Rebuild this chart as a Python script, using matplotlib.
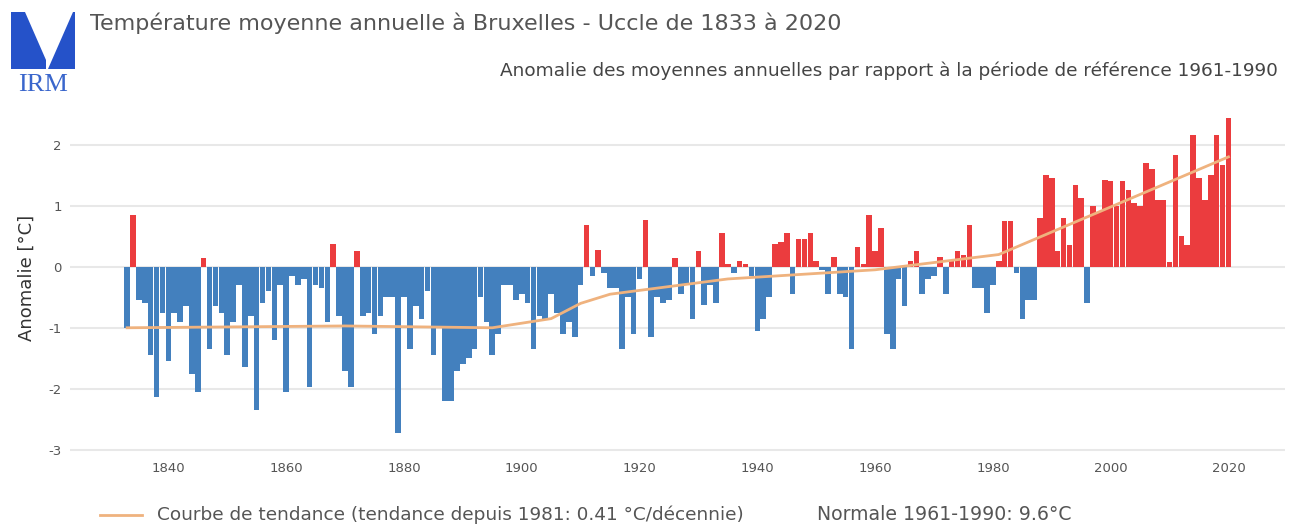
import matplotlib
matplotlib.use("Agg")
import matplotlib.pyplot as plt
from matplotlib.patches import Polygon
from matplotlib.lines import Line2D

# ---------------- data ----------------
years = list(range(1833, 2021))
anomalies = [
    -1.00, 0.85, -0.55, -0.60, -1.45, -2.13, -0.75,            # 1833-1839
    -1.55, -0.75, -0.90, -0.65, -1.75, -2.05, 0.15, -1.35, -0.65, -0.75,  # 1840s
    -1.45, -0.90, -0.30, -1.65, -0.80, -2.35, -0.60, -0.40, -1.20, -0.30,  # 1850s
    -2.05, -0.15, -0.30, -0.20, -1.97, -0.30, -0.35, -0.90, 0.38, -0.80,   # 1860s
    -1.70, -1.97, 0.25, -0.80, -0.75, -1.10, -0.80, -0.50, -0.50, -2.73,   # 1870s
    -0.50, -1.34, -0.65, -0.85, -0.40, -1.45, -1.00, -2.20, -2.20, -1.70,  # 1880s
    -1.60, -1.50, -1.35, -0.50, -0.90, -1.45, -1.10, -0.30, -0.30, -0.55,  # 1890s
    -0.45, -0.60, -1.34, -0.80, -0.85, -0.45, -0.75, -1.10, -0.90, -1.15,  # 1900s
    -0.30, 0.68, -0.15, 0.27, -0.10, -0.35, -0.35, -1.34, -0.50, -1.10,   # 1910s
    -0.20, 0.77, -1.15, -0.50, -0.60, -0.55, 0.15, -0.45, -0.30, -0.85,   # 1920s
    0.25, -0.63, -0.30, -0.60, 0.55, 0.05, -0.10, 0.10, 0.05, -0.15,      # 1930s
    -1.05, -0.85, -0.50, 0.38, 0.40, 0.55, -0.45, 0.45, 0.45, 0.55,       # 1940s
    0.10, -0.05, -0.45, 0.16, -0.45, -0.50, -1.34, 0.33, 0.05, 0.85,      # 1950s
    0.25, 0.63, -1.10, -1.35, -0.20, -0.65, 0.10, 0.25, -0.45, -0.20,     # 1960s
    -0.15, 0.16, -0.45, 0.10, 0.25, 0.20, 0.68, -0.35, -0.35, -0.75,      # 1970s
    -0.30, 0.10, 0.75, 0.75, -0.10, -0.85, -0.55, -0.55, 0.80, 1.50,      # 1980s
    1.45, 0.25, 0.80, 0.35, 1.34, 1.12, -0.60, 1.00, 0.90, 1.42,          # 1990s
    1.40, 1.00, 1.40, 1.25, 1.05, 1.00, 1.70, 1.60, 1.10, 1.10,           # 2000s
    0.08, 1.83, 0.50, 0.35, 2.16, 1.45, 1.10, 1.50, 2.16, 1.67,           # 2010s
    2.43,                                                                 # 2020
]

trend_years = [1833, 1870, 1895, 1905, 1910, 1915, 1935, 1960, 1981, 2020]
trend_values = [-1.00, -0.97, -1.00, -0.85, -0.60, -0.45, -0.20, -0.05, 0.20, 1.80]

x_ticks = [1840, 1860, 1880, 1900, 1920, 1940, 1960, 1980, 2000, 2020]
y_ticks = [-3, -2, -1, 0, 1, 2]
y_tick_labels = ["-3", "-2", "-1", "0", "1", "2"]

title = "Température moyenne annuelle à Bruxelles - Uccle de 1833 à 2020"
subtitle = "Anomalie des moyennes annuelles par rapport à la période de référence 1961-1990"
trend_label = "Courbe de tendance (tendance depuis 1981: 0.41 °C/décennie)"
normal_label = "Normale 1961-1990: 9.6°C"
y_label = "Anomalie [°C]"

# ---------------- style ----------------
plt.rcParams['font.family'] = ['DejaVu Sans']
RED = '#eb3c3e'
BLUE = '#4380be'
TREND = '#efb27e'
GRID = '#e8e8e8'
TXT = '#555555'

W, H = 1293, 527
fig = plt.figure(figsize=(W / 100, H / 100), dpi=100)

def fx(px):
    return px / W

def fy(py):
    return 1 - py / H

ax_l, ax_r, ax_t, ax_b = 70, 1285, 105, 459
ax = fig.add_axes([fx(ax_l), fy(ax_b), fx(ax_r - ax_l), (ax_b - ax_t) / H])

colors = [RED if v >= 0 else BLUE for v in anomalies]
ax.bar(years, anomalies, width=0.95, color=colors, linewidth=0, zorder=2)
ax.plot(trend_years, trend_values, color=TREND, lw=2, zorder=3)

ax.set_xlim(1823.3, 2029.6)
ax.set_ylim(-3.15, 2.65)
ax.set_xticks(x_ticks)
ax.set_yticks(y_ticks)
ax.set_yticklabels(y_tick_labels)
ax.yaxis.grid(True, color=GRID, lw=1.5, zorder=0)
ax.set_axisbelow(True)
for s in ax.spines.values():
    s.set_visible(False)
ax.tick_params(axis='both', length=0, labelsize=9.5, colors=TXT)
ax.tick_params(axis='y', pad=6)
ax.tick_params(axis='x', pad=2)

fig.text(fx(27), fy(278), y_label, fontsize=13, color='#333333', rotation=90,
         ha='center', va='center')

# titles
fig.text(fx(90), fy(23), title, fontsize=16, color=TXT, ha='left', va='center')
fig.text(fx(1278), fy(71), subtitle, fontsize=13.3, color='#444444', ha='right', va='center')

# legend (manual, bottom)
fig.add_artist(Line2D([fx(100), fx(142)], [fy(515), fy(515)], color=TREND, lw=2))
fig.text(fx(157), fy(515), trend_label, fontsize=13.3, color=TXT, ha='left', va='center')
fig.text(fx(817), fy(515), normal_label, fontsize=13.6, color=TXT, ha='left', va='center')

# logo
lax = fig.add_axes([fx(5), fy(100), fx(75), 95 / H])
lax.set_xlim(5, 80)
lax.set_ylim(100, 5)
lax.axis('off')
lax.add_patch(Polygon([(11, 12), (25, 12), (46, 60), (46, 69), (11, 69)], closed=True,
                      color='#2552c9', lw=0))
lax.add_patch(Polygon([(73, 12), (75, 12), (75, 69), (48, 69)], closed=True,
                      color='#2552c9', lw=0))
lax.text(43, 85, "IRM", fontsize=19, color='#3a66cc', ha='center', va='center',
         family='Liberation Serif')

fig.savefig("out.png", dpi=100)
